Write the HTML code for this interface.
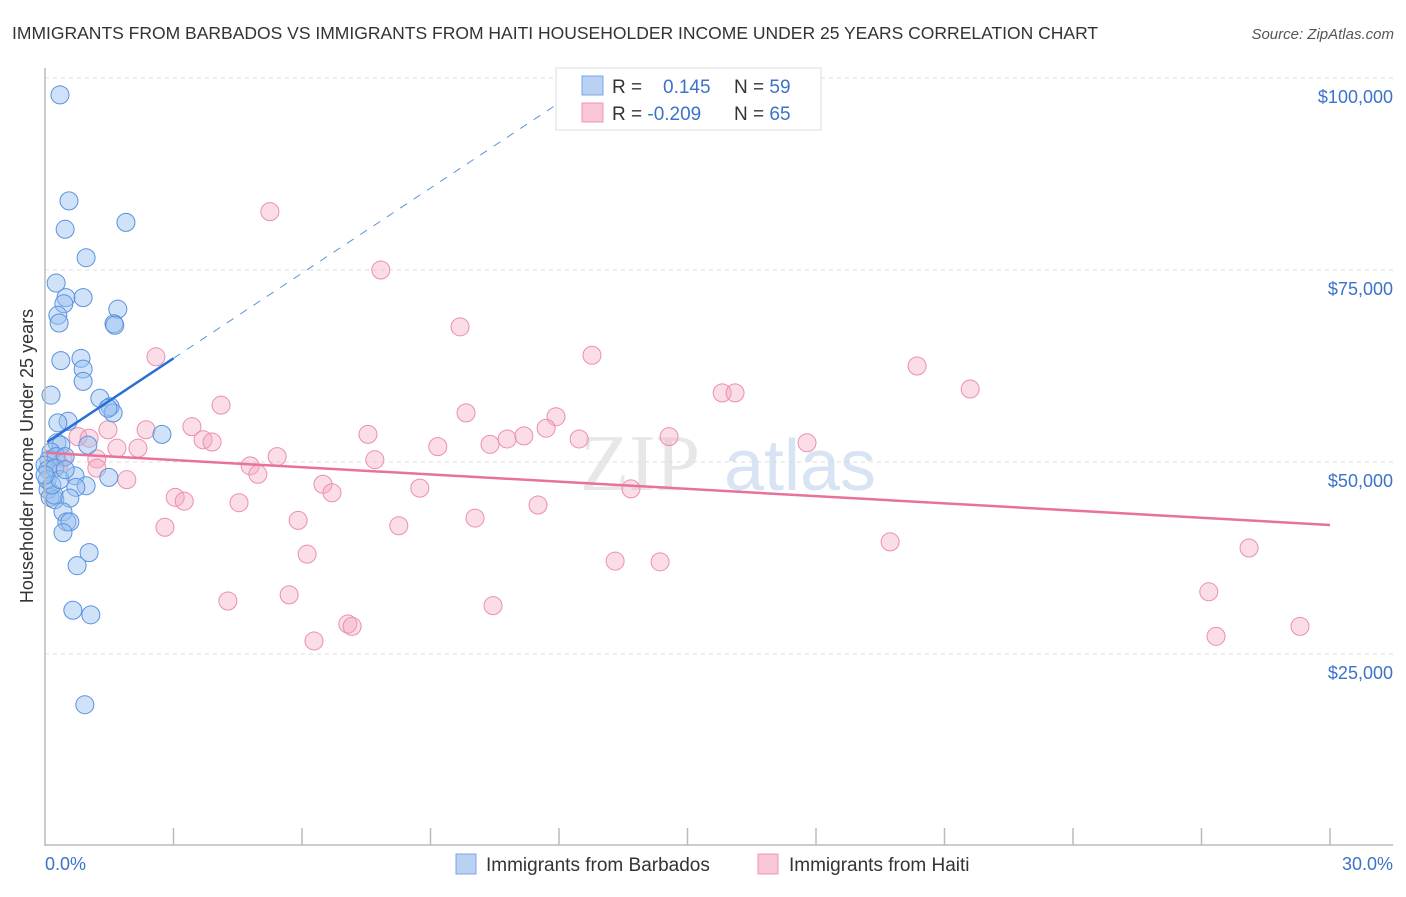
<!DOCTYPE html>
<html><head><meta charset="utf-8"><style>
body{margin:0;background:#fff;font-family:"Liberation Sans",sans-serif}
</style></head><body>
<svg width="1406" height="892" xmlns="http://www.w3.org/2000/svg" font-family="Liberation Sans, sans-serif">
<text x="12" y="39" font-size="17.5" fill="#333">IMMIGRANTS FROM BARBADOS VS IMMIGRANTS FROM HAITI HOUSEHOLDER INCOME UNDER 25 YEARS CORRELATION CHART</text>
<text x="1394" y="39" font-size="15" fill="#555" font-style="italic" text-anchor="end">Source: ZipAtlas.com</text>
<g id="grid"></g>
<text x="640" y="490" font-size="80" fill="#ddd" font-family="Liberation Serif, serif" text-anchor="middle" opacity="0.7">ZIP</text>
<text x="800" y="490" font-size="72" fill="#c8d8f0" text-anchor="middle" opacity="0.7">atlas</text>
<g id="points"></g>
<g id="trends"></g>
<line x1="45" y1="68" x2="45" y2="846" stroke="#bbb" stroke-width="1.5"/>
<line x1="45" y1="845" x2="1393" y2="845" stroke="#bbb" stroke-width="1.5"/>
<g id="xticks"></g>
<text x="45" y="870" font-size="18" fill="#3b73c9">0.0%</text>
<text x="1393" y="870" font-size="18" fill="#3b73c9" text-anchor="end">30.0%</text>
<text transform="translate(33,456) rotate(-90)" font-size="18" fill="#333" text-anchor="middle">Householder Income Under 25 years</text>
<g>
<rect x="556" y="68" width="265" height="62" fill="#fff" stroke="#ddd"/>
<rect x="582" y="76" width="21" height="19" fill="#b9d2f4" stroke="#7aa7e6"/>
<rect x="582" y="103" width="21" height="19" fill="#f9c6d6" stroke="#ee97b3"/>
<text x="612" y="93" font-size="19" fill="#333">R = <tspan fill="#3b73c9" x="663">0.145</tspan></text>
<text x="734" y="93" font-size="19" fill="#333">N = <tspan fill="#3b73c9">59</tspan></text>
<text x="612" y="120" font-size="19" fill="#333">R = <tspan fill="#3b73c9">-0.209</tspan></text>
<text x="734" y="120" font-size="19" fill="#333">N = <tspan fill="#3b73c9">65</tspan></text>
</g>
<g>
<rect x="456" y="854" width="20" height="20" fill="#b9d2f4" stroke="#7aa7e6"/>
<text x="486" y="871" font-size="19" fill="#333">Immigrants from Barbados</text>
<rect x="758" y="854" width="20" height="20" fill="#f9c6d6" stroke="#ee97b3"/>
<text x="789" y="871" font-size="19" fill="#333">Immigrants from Haiti</text>
</g>
</svg>
<script>
const yTicks=[25000,50000,75000,100000];
const yTickLabels=["$25,000","$50,000","$75,000","$100,000"];
const xTicks=[3,6,9,12,15,18,21,24,27,30];
const barbadosX=[0.35,0.56,0.47,1.89,0.96,0.26,0.49,0.44,0.89,1.70,0.30,0.33,1.61,1.63,0.37,0.84,0.89,0.89,0.14,1.28,1.52,1.59,0.54,0.30,2.73,0.28,0.37,1.00,0.14,0.09,0.26,0.47,0.0,0.07,0.23,0.70,0.96,0.72,1.49,0.07,0.12,0.23,0.21,0.58,0.42,0.51,0.58,0.42,1.03,0.75,0.65,1.07,0.93,0.05,0.16,0.35,0.0,0.47,1.47];
const barbadosY=[97.8,84.0,80.3,81.2,76.6,73.3,71.4,70.6,71.4,69.9,69.1,68.1,68.0,67.8,63.2,63.5,62.1,60.5,58.7,58.3,57.2,56.4,55.3,55.1,53.6,52.5,52.2,52.2,51.3,50.3,50.7,50.7,49.6,49.0,49.2,48.2,46.9,46.7,48.0,46.4,45.4,45.1,45.7,45.3,43.5,42.2,42.2,40.8,38.2,36.5,30.7,30.1,18.4,47.7,47.0,47.7,48.3,49.0,57.0];
const haitiX=[2.59,5.25,7.84,9.69,12.77,20.36,21.60,15.81,16.11,4.11,9.83,11.93,3.43,2.36,1.47,0.77,1.03,7.54,3.69,3.90,9.17,10.39,10.79,11.18,11.70,12.47,14.57,17.79,1.68,2.17,0.42,1.21,5.42,7.70,4.79,4.97,1.21,1.91,0.33,6.49,6.70,8.75,13.68,3.04,3.25,4.53,11.51,5.91,10.04,8.26,2.80,19.73,28.11,6.12,13.31,14.36,5.70,4.27,10.46,27.17,7.07,7.17,6.28,27.34,29.30];
const haitiY=[63.7,82.6,75.0,67.6,63.9,62.5,59.5,59.0,59.0,57.4,56.4,55.9,54.6,54.2,54.2,53.3,53.1,53.6,52.9,52.6,52.0,52.3,53.0,53.4,54.4,53.0,53.3,52.5,51.8,51.8,50.5,50.4,50.7,50.3,49.5,48.4,49.2,47.7,49.7,47.1,46.0,46.6,46.5,45.4,44.9,44.7,44.4,42.4,42.7,41.7,41.5,39.6,38.8,38.0,37.1,37.0,32.7,31.9,31.3,33.1,28.9,28.6,26.7,27.3,28.6];
const barbadosTrend=[[0.05,52.6],[3.0,63.5]];
const barbadosTrendExt=[[3.0,63.5],[12.5,98.6]];
const haitiTrend=[[0,51.2],[30,41.8]];
const NS="http://www.w3.org/2000/svg";
function sx(v){return 45+v/30*1285;}
function sy(v){return 846-v/100000*768;}
function syk(v){return sy(v*1000);}
function mk(t,a,p){const e=document.createElementNS(NS,t);for(const k in a)e.setAttribute(k,a[k]);p.appendChild(e);return e;}
const grid=document.getElementById('grid');
yTicks.forEach((v,i)=>{
 const l=mk('line',{x1:45,x2:1393,y1:sy(v),y2:sy(v),stroke:'#ddd','stroke-dasharray':'4,4'},grid);
 
 
 const t=mk('text',{x:1393,y:sy(v)+25,'font-size':18,fill:'#3b73c9','text-anchor':'end'},grid);
 t.textContent=yTickLabels[i];
 
 
});
const xt=document.getElementById('xticks');
xTicks.forEach(v=>{
 const l=mk('line',{x1:sx(v),x2:sx(v),y1:828,y2:845,stroke:'#bbb','stroke-width':1.5},xt);
 
 
});
const pts=document.getElementById('points');
haitiX.forEach((x,i)=>{
 const c=mk('circle',{cx:sx(x),cy:syk(haitiY[i]),r:9,fill:'rgba(246,170,195,0.4)',stroke:'#eb8fae','stroke-width':1},pts);
 
 
});
barbadosX.forEach((x,i)=>{
 const c=mk('circle',{cx:sx(x),cy:syk(barbadosY[i]),r:9,fill:'rgba(150,190,240,0.45)',stroke:'#5b92de','stroke-width':1},pts);
 
 
});
const tr=document.getElementById('trends');
function line(p,st,dash,w,name){
 const a={x1:sx(p[0][0]),y1:syk(p[0][1]),x2:sx(p[1][0]),y2:syk(p[1][1]),stroke:st,'stroke-width':w};
 if(dash)a['stroke-dasharray']=dash;
 const l=mk('line',a,tr);
 
 
}
line(haitiTrend,'#e8729b',null,2.5,'trend-haiti');
line(barbadosTrendExt,'#5b92de','8,8',1,'trend-barbados-extension');
line(barbadosTrend,'#2a6fd6',null,2.5,'trend-barbados');
</script>
</body></html>
